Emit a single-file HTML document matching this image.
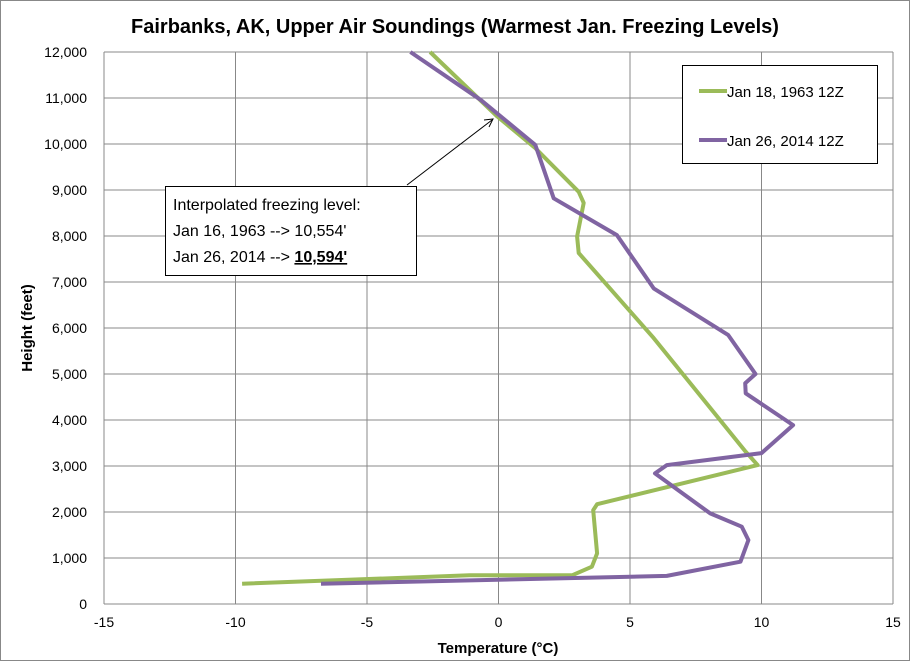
<!DOCTYPE html>
<html><head><meta charset="utf-8"><style>
body{margin:0;background:#fff;}
svg{display:block;font-family:"Liberation Sans",Calibri,sans-serif;}
</style></head><body>
<svg id="chart" width="910" height="661">
<rect x="0.5" y="0.5" width="909" height="660" fill="#fff" stroke="#888"/>
<text x="455" y="33" text-anchor="middle" font-size="20" font-weight="bold">Fairbanks, AK, Upper Air Soundings (Warmest Jan. Freezing Levels)</text>
<g id="grid"></g>
<g id="xticks"></g>
<g id="yticks"></g>
<g id="series"></g>
<text x="498" y="653" text-anchor="middle" font-size="15" font-weight="bold">Temperature (°C)</text>
<text transform="translate(32,328) rotate(-90)" text-anchor="middle" font-size="15" font-weight="bold">Height (feet)</text>
<g>
<rect x="682.5" y="65.5" width="195" height="98" fill="#fff" stroke="#000"/>
<line x1="699" y1="91" x2="727" y2="91" stroke="#9bbb59" stroke-width="4"/>
<text x="727" y="97" font-size="15">Jan 18, 1963 12Z</text>
<line x1="699" y1="140" x2="727" y2="140" stroke="#8064a2" stroke-width="4"/>
<text x="727" y="146" font-size="15">Jan 26, 2014 12Z</text>
</g>
<g>
<line x1="407" y1="185" x2="492" y2="120" stroke="#000" stroke-width="1"/>
<path d="M484,120 L493,119 L489,127" fill="none" stroke="#000"/>
<rect x="165.5" y="186.5" width="251" height="89" fill="#fff" stroke="#000"/>
<text x="173" y="210" font-size="16">Interpolated  freezing  level:</text>
<text x="173" y="236" font-size="16">Jan 16, 1963 --&gt; 10,554'</text>
<text x="173" y="262" font-size="16">Jan 26, 2014 --&gt; <tspan font-weight="bold" text-decoration="underline">10,594'</tspan></text>
</g>
</svg>
<script>
const xTicks=[-15,-10,-5,0,5,10,15];
const yTicks=[0,1000,2000,3000,4000,5000,6000,7000,8000,9000,10000,11000,12000];
const temp1963=[-9.75,-1.1,2.8,3.55,3.75,3.6,3.75,9.85,9.4,5.9,4.13,3.05,2.99,3.24,3.05,1.4,-0.05,-2.6];
const height1963=[442,624,624,810,1100,2040,2170,3020,3310,5780,6930,7630,7990,8720,8960,9910,10600,12000];
const temp2014=[-6.75,6.4,9.2,9.5,9.25,8.05,5.95,6.4,10.0,11.2,9.4,9.38,9.77,8.73,5.9,4.5,2.1,1.4,-0.68,-3.35];
const height2014=[442,610,920,1390,1680,1970,2840,3020,3280,3890,4580,4800,5000,5850,6860,8020,8820,9980,10960,12000];
const L=104,R=893,T=52,B=604;
const xS=v=>L+(v+15)/30*(R-L);
const yS=v=>B-v/12000*(B-T);
const NS="http://www.w3.org/2000/svg";
function mk(tag,attrs,parent){const e=document.createElementNS(NS,tag);for(const k in attrs)e.setAttribute(k,attrs[k]);parent.appendChild(e);return e;}
const grid=document.getElementById('grid'),xt=document.getElementById('xticks'),yt=document.getElementById('yticks'),se=document.getElementById('series');
xTicks.forEach(v=>{
 const l=mk('line',{x1:xS(v),x2:xS(v),y1:T,y2:B,stroke:'#888','stroke-width':1},grid);
 
 
 const t=mk('text',{x:xS(v),y:B+23,'text-anchor':'middle','font-size':14},xt);
 t.textContent=v;
 
 
});
yTicks.forEach(v=>{
 const l=mk('line',{x1:L,x2:R,y1:yS(v),y2:yS(v),stroke:'#888','stroke-width':1},grid);
 
 
 const t=mk('text',{x:87,y:yS(v)+5,'text-anchor':'end','font-size':14},yt);
 t.textContent=v.toLocaleString('en-US');
 
 
});
function line(xs,ys,color,name){
 const d=xs.map((v,i)=>(i?'L':'M')+xS(v).toFixed(1)+','+yS(ys[i]).toFixed(1)).join(' ');
 const p=mk('path',{d:d,fill:'none',stroke:color,'stroke-width':4,'stroke-linejoin':'round'},se);
 
 
}
line(temp1963,height1963,'#9bbb59','series-1963');
line(temp2014,height2014,'#8064a2','series-2014');
</script>
</body></html>
